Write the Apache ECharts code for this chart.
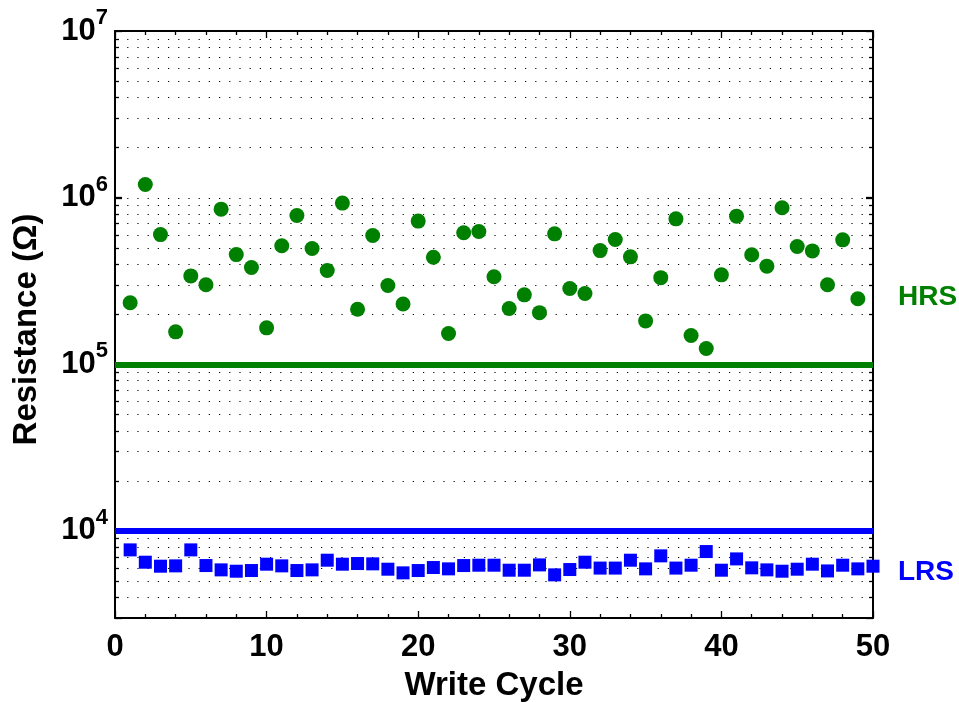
<!DOCTYPE html>
<html>
<head>
<meta charset="utf-8">
<script src="https://cdn.jsdelivr.net/npm/echarts@6/dist/echarts.min.js"></script>
<style>html,body{margin:0;padding:0;background:#fff}#c{width:959px;height:702px}</style>
</head>
<body>
<div id="c"></div>
<script>
// ---- data ----
var hrsCycles = [1,2,3,4,5,6,7,8,9,10,11,12,13,14,15,16,17,18,19,20,21,22,23,24,25,26,27,28,29,30,31,32,33,34,35,36,37,38,39,40,41,42,43,44,45,46,47,48,49];
var hrsValues = [2.34e5,1.20e6,6.0e5,1.565e5,3.39e5,3.0e5,8.53e5,4.55e5,3.81e5,1.654e5,5.14e5,7.81e5,4.95e5,3.65e5,9.27e5,2.14e5,5.92e5,2.97e5,2.30e5,7.23e5,4.39e5,1.53e5,6.15e5,6.26e5,3.35e5,2.16e5,2.61e5,2.04e5,6.06e5,2.85e5,2.66e5,4.81e5,5.61e5,4.41e5,1.82e5,3.31e5,7.46e5,1.487e5,1.243e5,3.44e5,7.74e5,4.54e5,3.88e5,8.69e5,5.09e5,4.79e5,3.0e5,5.58e5,2.47e5];
var lrsCycles = [1,2,3,4,5,6,7,8,9,10,11,12,13,14,15,16,17,18,19,20,21,22,23,24,25,26,27,28,29,30,31,32,33,34,35,36,37,38,39,40,41,42,43,44,45,46,47,48,49,50];
var lrsValues = [7690,6486,6138,6166,7690,6193,5834,5727,5781,6310,6166,5781,5834,6668,6310,6368,6340,5888,5598,5781,6026,5916,6193,6222,6222,5807,5807,6250,5445,5861,6486,5980,5980,6668,5916,7080,5980,6222,7515,5807,6790,6000,5834,5727,5888,6310,5750,6222,5916,6138];
var hrsThreshold = 1e5;
var lrsThreshold = 1e4;
var xMin = 0, xMax = 50, xInterval = 10;
var yMin = 3000, yMax = 1e7;
var gridValues = [4000,5000,6000,7000,8000,9000,1e4,2e4,3e4,4e4,5e4,6e4,7e4,8e4,9e4,1e5,2e5,3e5,4e5,5e5,6e5,7e5,8e5,9e5,1e6,2e6,3e6,4e6,5e6,6e6,7e6,8e6,9e6];
var majorValues = [1e4,1e5,1e6];

var FONT = "'Liberation Sans', Arial, Helvetica, sans-serif";
var GREEN = '#008000', BLUE = '#0000ff';

var chart = echarts.init(document.getElementById('c'), null, {renderer:'canvas'});

function yLabel(v){
  var e = Math.round(Math.log10(v));
  if (Math.abs(v - Math.pow(10,e)) / v > 1e-6) return '';
  return '{b|10}{s|' + e + '}';
}

var option = {
  animation: false,
  backgroundColor: '#fff',
  grid: {left:115, top:31, width:758, height:587, containLabel:false, outerBoundsMode:'none'},
  xAxis: [{
    type:'value', min:xMin, max:xMax, interval:xInterval, position:'bottom',
    name:'Write Cycle', nameLocation:'middle', nameGap:51,
    nameTextStyle:{fontFamily:FONT, fontWeight:'bold', fontSize:33, color:'#000'},
    axisLine:{show:true, onZero:false, lineStyle:{color:'#000', width:2}},
    axisTick:{show:true, inside:true, length:7, lineStyle:{color:'#000', width:1.3}},
    minorTick:{show:true, splitNumber:5, length:4, lineStyle:{color:'#000', width:1.3}},
    axisLabel:{fontFamily:FONT, fontWeight:'bold', fontSize:31, color:'#000', margin:14},
    splitLine:{show:false}
  },{
    type:'value', min:xMin, max:xMax, interval:xInterval, position:'top',
    axisLine:{show:true, onZero:false, lineStyle:{color:'#000', width:2}},
    axisTick:{show:true, inside:true, length:7, lineStyle:{color:'#000', width:1.3}},
    minorTick:{show:true, splitNumber:5, length:4, lineStyle:{color:'#000', width:1.3}},
    axisLabel:{show:false}, splitLine:{show:false}
  }],
  yAxis: [{
    type:'log', logBase:10, min:yMin, max:yMax, position:'left',
    name:'Resistance (\u03A9)', nameLocation:'middle', nameGap:72, nameRotate:90,
    nameTextStyle:{fontFamily:FONT, fontWeight:'bold', fontSize:33, color:'#000', padding:[0,10,0,0]},
    axisLine:{show:true, onZero:false, lineStyle:{color:'#000', width:2}},
    axisTick:{show:true, inside:true, length:7, lineStyle:{color:'#000', width:1.3}},
    axisLabel:{
      margin:7, formatter:yLabel,
      rich:{
        b:{fontFamily:FONT, fontWeight:'bold', fontSize:31, color:'#000', lineHeight:48},
        s:{fontFamily:FONT, fontWeight:'bold', fontSize:22, color:'#000', lineHeight:22, verticalAlign:'top'}
      }
    },
    splitLine:{show:false}
  },{
    type:'log', logBase:10, min:yMin, max:yMax, position:'right',
    axisLine:{show:true, onZero:false, lineStyle:{color:'#000', width:2}},
    axisTick:{show:true, inside:true, length:7, lineStyle:{color:'#000', width:1.3}},
    axisLabel:{show:false}, splitLine:{show:false}
  }],
  series: [{
    type:'custom', z:1, silent:true, xAxisIndex:0, yAxisIndex:0,
    data: gridValues.map(function(v){ return [xMin, v]; }),
    renderItem: function(params, api){
      var v = api.value(1);
      var p0 = api.coord([xMin, v]);
      var p1 = api.coord([xMax, v]);
      var y = Math.round(p0[1]) + 0.5;
      var isMajor = majorValues.indexOf(v) >= 0;
      var len = isMajor ? 7 : 4;
      return {type:'group', children:[
        {type:'line', shape:{x1:p0[0]+2, y1:y, x2:p1[0]-2, y2:y}, style:{stroke:'#000', lineWidth:1, lineDash:[1.2,9]}},
        {type:'line', shape:{x1:p0[0], y1:y, x2:p0[0]+len, y2:y}, style:{stroke:'#000', lineWidth:1.3}},
        {type:'line', shape:{x1:p1[0]-len, y1:y, x2:p1[0], y2:y}, style:{stroke:'#000', lineWidth:1.3}}
      ]};
    }
  },{
    name:'HRS', type:'scatter', z:3, symbol:'circle', symbolSize:15,
    itemStyle:{color:GREEN, opacity:1},
    data: hrsCycles.map(function(c,i){ return [c, hrsValues[i]]; }),
    markLine:{silent:true, symbol:'none', label:{show:false},
      lineStyle:{color:GREEN, width:6, type:'solid', opacity:1},
      data:[{yAxis:hrsThreshold}]}
  },{
    name:'LRS', type:'scatter', z:3, symbol:'rect', symbolSize:13,
    itemStyle:{color:BLUE, opacity:1},
    data: lrsCycles.map(function(c,i){ return [c, lrsValues[i]]; }),
    markLine:{silent:true, symbol:'none', label:{show:false},
      lineStyle:{color:BLUE, width:6, type:'solid', opacity:1},
      data:[{yAxis:lrsThreshold}]}
  }],
  graphic: [
    {type:'text', left:898, top:283, style:{text:'HRS', fill:GREEN, font:'bold 28px ' + FONT}},
    {type:'text', left:898, top:558, style:{text:'LRS', fill:BLUE, font:'bold 28px ' + FONT}}
  ]
};
chart.setOption(option);
</script>
</body>
</html>
